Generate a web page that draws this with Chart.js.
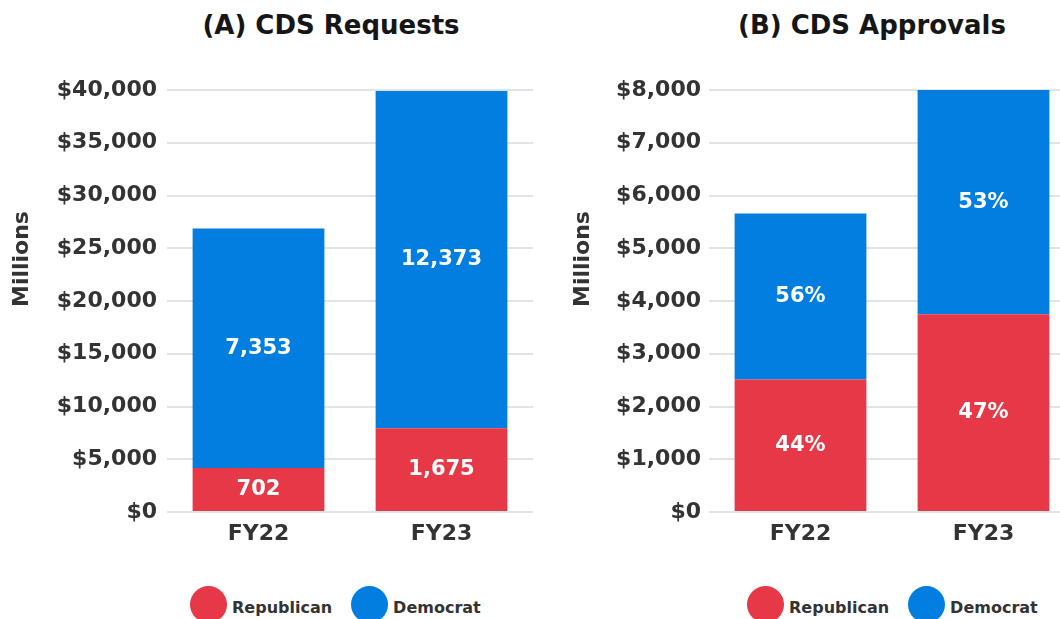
<!DOCTYPE html>
<html>
<head>
<meta charset="utf-8">
<script src="https://cdn.jsdelivr.net/npm/chart.js@4/dist/chart.umd.min.js"></script>
<style>
  html, body { margin: 0; padding: 0; width: 1060px; height: 619px; overflow: hidden; background: #fff; font-family: "DejaVu Sans", sans-serif; }
  .panel-title { position: absolute; top: 10px; width: 400px; text-align: center; font-size: 26px; line-height: 30px; font-weight: bold; color: #161616; }
  canvas { position: absolute; top: 0; }
  .legend { position: absolute; top: 586px; height: 37px; display: flex; align-items: center; }
  .legend-item { display: flex; align-items: center; margin-right: 19px; }
  .legend-dot { width: 37px; height: 37px; border-radius: 50%; margin-right: 5px; }
  .legend-text { font-size: 16px; line-height: 16px; font-weight: bold; color: #333; position: relative; top: 3px; }
</style>
</head>
<body>
<div class="panel-title" style="left:131px">(A) CDS Requests</div>
<div class="panel-title" style="left:672px">(B) CDS Approvals</div>
<canvas id="requestsChart" width="560" height="560" style="left:0"></canvas>
<canvas id="approvalsChart" width="530" height="560" style="left:560px"></canvas>
<div class="legend" id="legend-a" style="left:190px"></div>
<div class="legend" id="legend-b" style="left:747px"></div>
<script>
// --- data ---
const years = ["FY22", "FY23"];
const seriesNames = ["Republican", "Democrat"];
const seriesColors = ["#e63847", "#017ee0"];

// (A) requests, $ millions, plus the request counts printed on the bars
const requestsRep = [4180, 7940];
const requestsDem = [22690, 31970];
const requestsRepCount = [702, 1675];
const requestsDemCount = [7353, 12373];

// (B) approvals, $ millions, plus the shares printed on the bars
const approvalsRep = [2510, 3750];
const approvalsDem = [3150, 4250];
const approvalsRepPct = [44, 47];
const approvalsDemPct = [56, 53];

const requestsTicks = { max: 40000, step: 5000 };
const approvalsTicks = { max: 8000, step: 1000 };

const TXT = "#333";
const GRID = "#e0e4e5";
const FONT = '"DejaVu Sans", sans-serif';

// labels in the middle of each stacked segment
const barLabels = {
  id: "barLabels",
  afterDatasetsDraw(chart) {
    const ctx = chart.ctx;
    ctx.save();
    ctx.font = "bold 21px " + FONT;
    ctx.fillStyle = "#fff";
    ctx.textAlign = "center";
    ctx.textBaseline = "middle";
    chart.data.datasets.forEach((ds, i) => {
      chart.getDatasetMeta(i).data.forEach((bar, j) => {
        const p = bar.getProps(["x", "y", "base"], true);
        ctx.fillText(ds.valueLabels[j], p.x, (p.y + p.base) / 2);
      });
    });
    ctx.restore();
  },
};

// rotated "Millions" title, sits a bit above the axis middle like the original
const yTitle = {
  id: "yTitle",
  afterDraw(chart, args, opts) {
    const ctx = chart.ctx;
    ctx.save();
    ctx.translate(opts.x, opts.y);
    ctx.rotate(-Math.PI / 2);
    ctx.font = "bold 22px " + FONT;
    ctx.fillStyle = TXT;
    ctx.textAlign = "center";
    ctx.textBaseline = "middle";
    ctx.fillText(opts.text, 0, 0);
    ctx.restore();
  },
};

function makeChart(id, rep, dem, repLabels, demLabels, ticks, o) {
  return new Chart(document.getElementById(id), {
    type: "bar",
    data: {
      labels: years,
      datasets: [
        { label: seriesNames[0], data: rep, backgroundColor: seriesColors[0], valueLabels: repLabels },
        { label: seriesNames[1], data: dem, backgroundColor: seriesColors[1], valueLabels: demLabels },
      ],
    },
    options: {
      responsive: false,
      animation: false,
      devicePixelRatio: 1,
      layout: { padding: { top: 90, right: o.padRight, bottom: 3.6, left: 0 } },
      plugins: {
        legend: { display: false },
        tooltip: { enabled: false },
        yTitle: { text: "Millions", x: o.titleX, y: 259 },
      },
      scales: {
        x: {
          stacked: true,
          grid: { display: false, drawTicks: false },
          border: { display: false },
          ticks: { color: TXT, padding: 9, font: { family: FONT, size: 22, weight: "bold" } },
        },
        y: {
          stacked: true,
          min: 0,
          max: ticks.max,
          afterFit: (scale) => { scale.width = o.axisWidth; },
          grid: { color: GRID, lineWidth: 2, drawTicks: false },
          border: { display: false },
          ticks: {
            stepSize: ticks.step,
            color: TXT,
            padding: o.tickPad,
            font: { family: FONT, size: 22, weight: "bold" },
            callback: (v) => "$" + v.toLocaleString("en-US"),
          },
        },
      },
    },
    plugins: [barLabels, yTitle],
  });
}

makeChart(
  "requestsChart",
  requestsRep,
  requestsDem,
  requestsRepCount.map((v) => v.toLocaleString("en-US")),
  requestsDemCount.map((v) => v.toLocaleString("en-US")),
  requestsTicks,
  { padRight: 27, axisWidth: 167, tickPad: 10, titleX: 22 }
);

makeChart(
  "approvalsChart",
  approvalsRep,
  approvalsDem,
  approvalsRepPct.map((v) => v + "%"),
  approvalsDemPct.map((v) => v + "%"),
  approvalsTicks,
  { padRight: 15, axisWidth: 149, tickPad: 8, titleX: 23 }
);

// html legends under each panel
function buildLegend(id) {
  const box = document.getElementById(id);
  seriesNames.forEach((name, i) => {
    const item = document.createElement("div");
    item.className = "legend-item";
    item.innerHTML = `<span class="legend-dot" style="background:${seriesColors[i]}"></span><span class="legend-text">${name}</span>`;
    box.appendChild(item);
  });
}
buildLegend("legend-a");
buildLegend("legend-b");
</script>
</body>
</html>
